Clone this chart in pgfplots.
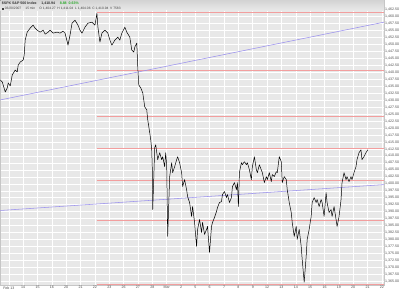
\documentclass[border=0pt]{standalone}
\usepackage{fontspec}
\setmainfont{Liberation Sans}
\usepackage{pgfplots}
\pgfplotsset{compat=1.18}
\definecolor{bg}{RGB}{232,232,232}
\definecolor{hdr}{RGB}{212,212,212}
\definecolor{fib}{RGB}{242,158,158}
\definecolor{trend}{RGB}{155,145,238}
\definecolor{upgreen}{RGB}{40,170,40}
\begin{document}
\begin{tikzpicture}
\begin{axis}[
  scale only axis, width=385bp, height=286bp,
  xmin=0, xmax=385, ymin=1363.61, ymax=1465.86,
  axis background/.style={fill=bg},
  axis line style={draw=gray!45, line width=0.3pt},
  grid=major, major grid style={white, line width=0.55pt},
  major tick length=0pt,
  ytick={1365,1367.5,...,1462.6},
  yticklabel pos=right,
  xtick={8.6,23,37.4,51.8,66.2,80.6,95,109.4,123.8,138.2,152.6,167,181.4,195.8,210.2,224.6,239,253.4,267.8,282.2,296.6,311,325.4,339.8,354.2,368.6,383},
  xticklabels={Feb 13,14,15,16,20,21,22,23,26,27,28,Mar,2,5,6,7,8,9,12,13,14,15,16,19,20,21,22},
  ticklabel style={font=\fontsize{3.6}{4}\selectfont, text=black!70, inner sep=1bp},
  /pgf/number format/.cd, fixed, fixed zerofill, precision=2, 1000 sep={,}, assume math mode=true,
]
% header band
\fill[top color=hdr, bottom color=bg] (axis cs:0,1465.86) rectangle (axis cs:385,1462.3);
% month boundary
\addplot[white, line width=1.3pt] coordinates {(167,1363.61) (167,1462.3)};
% Fibonacci levels
\addplot[fib, line width=0.55pt] coordinates {(97,1461.57) (385,1461.57)};
\addplot[fib, line width=0.55pt] coordinates {(97,1440.69) (385,1440.69)};
\addplot[fib, line width=0.55pt] coordinates {(97,1424.29) (385,1424.29)};
\addplot[fib, line width=0.55pt] coordinates {(97,1412.78) (385,1412.78)};
\addplot[fib, line width=0.55pt] coordinates {(97,1401.26) (385,1401.26)};
\addplot[fib, line width=0.55pt] coordinates {(97,1387.01) (385,1387.01)};
\addplot[fib, line width=0.55pt] coordinates {(97,1363.98) (385,1363.98)};
% trend lines
\addplot[trend, line width=0.55pt] coordinates {(0,1430.11) (385,1458.00)};
\addplot[trend, line width=0.55pt] coordinates {(0,1390.43) (385,1399.72)};
% price
\addplot[black, line width=0.5pt, line join=round] coordinates {
(0,1437.26) (2,1436.54) (5,1432.97) (7,1434.40) (8,1436.19) (10,1435.11) (12,1439.05) (15,1440.83) (17,1440.12) (18,1442.62) (20,1443.69) (23,1444.41) (24,1446.20) (25,1451.56) (27,1454.42) (30,1455.85) (33,1456.92) (35,1455.85) (37,1455.13) (40,1454.42) (43,1455.13) (45,1453.70) (48,1454.42) (50,1455.13) (53,1454.06) (57,1454.42) (60,1454.06) (63,1454.78) (65,1454.06) (68,1449.77) (70,1453.35) (72,1457.64) (75,1458.71) (78,1456.92) (80,1455.13) (82,1454.06) (85,1456.21) (88,1457.64) (92,1457.99) (95,1456.92) (97,1461.21) (98,1456.21) (100,1450.84) (102,1454.06) (105,1455.13) (108,1454.06) (110,1451.56) (112,1449.77) (115,1451.56) (118,1452.63) (120,1451.56) (122,1454.06) (125,1456.21) (127,1454.42) (130,1452.63) (132,1447.98) (134,1447.27) (135,1449.06) (137,1450.49) (138,1441.91) (139,1435.47) (141,1434.40) (143,1432.61) (145,1427.61) (147,1426.53) (148,1422.96) (150,1418.31) (151,1415.81) (152,1412.23) (152.5,1406.87) (153,1390.78) (154,1401.51) (155,1412.95) (156,1414.02) (158,1408.66) (160,1411.16) (162,1408.66) (163,1409.73) (165,1406.16) (166,1411.16) (167,1406.87) (168,1381.13) (170,1402.58) (172,1407.59) (173,1404.01) (175,1406.16) (177,1408.66) (178,1409.73) (180,1407.59) (182,1404.01) (183,1399.01) (185,1401.51) (187,1397.93) (188,1395.43) (190,1393.29) (192,1388.28) (193,1391.86) (195,1386.14) (197,1377.56) (198,1383.63) (200,1387.21) (202,1382.56) (203,1386.14) (205,1381.85) (207,1383.63) (208,1384.71) (210,1375.41) (212,1384.71) (213,1386.14) (215,1387.92) (217,1390.07) (218,1391.50) (220,1393.29) (222,1393.64) (223,1396.15) (225,1397.22) (227,1395.07) (228,1396.15) (230,1393.29) (232,1395.07) (233,1399.01) (235,1400.44) (237,1397.93) (238,1400.44) (239,1391.86) (240,1404.01) (242,1407.59) (243,1406.87) (245,1407.94) (247,1406.87) (248,1407.59) (250,1405.08) (252,1401.51) (253,1406.16) (255,1409.73) (257,1405.08) (258,1404.01) (260,1406.87) (263,1404.01) (265,1400.44) (267,1402.58) (268,1401.51) (270,1404.01) (272,1400.79) (273,1403.30) (275,1402.58) (277,1404.37) (278,1404.01) (280,1409.73) (282,1407.94) (283,1400.44) (285,1402.58) (287,1401.51) (288,1397.93) (290,1393.29) (292,1389.71) (293,1386.14) (295,1381.13) (297,1384.71) (298,1380.06) (300,1383.63) (302,1377.56) (303,1372.91) (305,1364.69) (306,1369.33) (307,1373.98) (308,1380.06) (310,1383.63) (312,1388.28) (313,1393.29) (315,1395.07) (317,1393.29) (318,1394.36) (320,1391.86) (322,1394.36) (323,1393.29) (325,1388.28) (327,1396.86) (328,1393.29) (330,1389.71) (332,1390.78) (333,1388.28) (335,1391.86) (337,1387.21) (338,1384.71) (340,1388.28) (342,1394.36) (343,1400.44) (345,1404.01) (347,1401.51) (348,1402.58) (350,1400.79) (352,1402.58) (353,1401.51) (355,1404.01) (357,1406.16) (358,1408.66) (360,1411.16) (362,1412.23) (363,1408.66) (365,1409.73) (367,1411.16) (369,1412.23)
};
% header text
\node[anchor=north west, inner sep=0.5bp, font=\fontsize{3.6}{4}\selectfont\bfseries, text=black!80] at (axis cs:1,1465.6)
  {\$SPX S\&P 500 Index \quad 1,410.94 \quad \textcolor{upgreen}{8.88 \ 0.63\%}};
\node[anchor=north west, inner sep=0.5bp, font=\fontsize{3.3}{4}\selectfont, text=black!75] at (axis cs:1,1463.6)
  {\rule{2bp}{2bp}\ 03/20/2007 \quad 15 min \quad O 1,404.27 \ H 1,411.04 \ L 1,404.06 \ C 1,410.94 \ V 7583};
\end{axis}
\end{tikzpicture}
\end{document}
